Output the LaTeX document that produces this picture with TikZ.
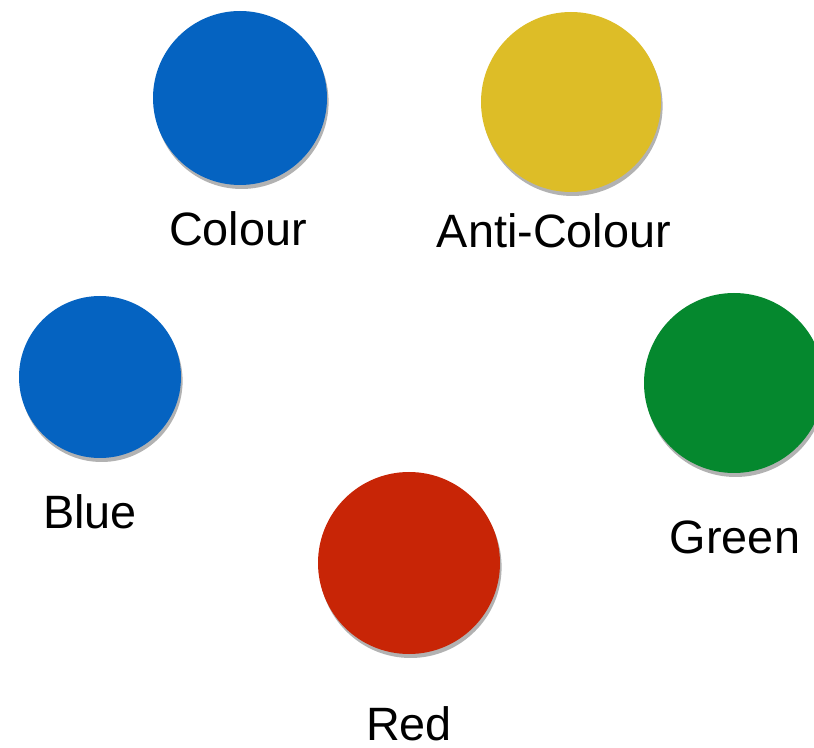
\documentclass[tikz,border=0pt]{standalone}
\usepackage{fontspec}
\setmainfont{Liberation Sans}
\usetikzlibrary{shadows}
\definecolor{dotblue}{RGB}{5,99,193}
\definecolor{dotyellow}{RGB}{221,189,39}
\definecolor{dotgreen}{RGB}{5,136,46}
\definecolor{dotred}{RGB}{200,37,6}
\tikzstyle{none}=[inner sep=0pt, anchor=base, font=\fontsize{23.4}{28}\selectfont]
\tikzstyle{dot}=[circle, inner sep=0pt, draw=none, drop shadow={shadow xshift=0.8pt, shadow yshift=-2pt, opacity=0.3, fill=black}]
\begin{document}
\begin{tikzpicture}[x=0.5pt, y=-0.5pt]
	\useasboundingbox (0, 0) rectangle (814, 748);
	\clip (0, 0) rectangle (814, 748);
	\node [style=dot, fill=dotblue, minimum size=87pt] (0) at (240, 98) {};
	\node [style=dot, fill=dotyellow, minimum size=90pt] (1) at (571, 102) {};
	\node [style=dot, fill=dotblue, minimum size=81pt] (2) at (100, 377) {};
	\node [style=dot, fill=dotgreen, minimum size=90pt] (3) at (734, 383) {};
	\node [style=dot, fill=dotred, minimum size=91pt] (4) at (409, 563) {};
	\node [style=none] (5) at (238, 246) {Colour};
	\node [style=none] (6) at (554, 248) {Anti-Colour};
	\node [style=none] (7) at (90, 529) {Blue};
	\node [style=none] (8) at (735, 553) {Green};
	\node [style=none] (9) at (409, 740) {Red};
\end{tikzpicture}
\end{document}
